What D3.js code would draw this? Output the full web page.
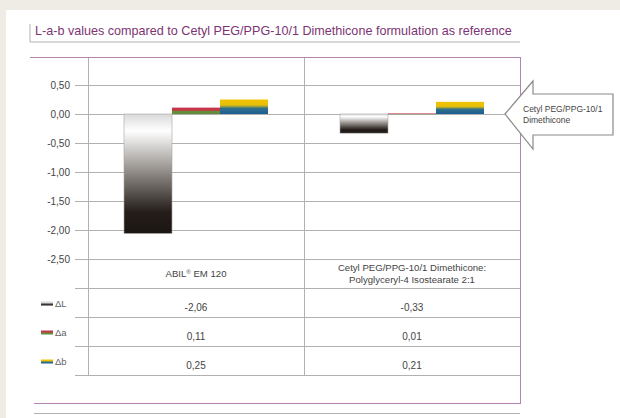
<!DOCTYPE html>
<html>
<head>
<meta charset="utf-8">
<script src="https://cdn.jsdelivr.net/npm/d3@7"></script>
<style>
  body { margin: 0; background: #efebe5; }
  svg { display: block; font-family: "Liberation Sans", Arial, sans-serif; }
</style>
</head>
<body>
<svg id="chart" width="620" height="418"></svg>
<script>
// Data
const title = 'L-a-b values compared to Cetyl PEG/PPG-10/1 Dimethicone formulation as reference';
const categories = ['ABIL® EM 120', 'Cetyl PEG/PPG-10/1 Dimethicone:\nPolyglyceryl-4 Isostearate 2:1'];
const series = ['ΔL', 'Δa', 'Δb'];
const deltaL = [-2.06, -0.33];
const deltaA = [0.11, 0.01];
const deltaB = [0.25, 0.21];
const yTicks = [0.5, 0, -0.5, -1, -1.5, -2, -2.5];
const refLabel = ['Cetyl PEG/PPG-10/1', 'Dimethicone'];

const values = [deltaL, deltaA, deltaB];

// Colours
const purple = '#b583b3';
const grid = '#b3b1ae';
const textCol = '#444';

const fmt = d3.formatLocale({ decimal: ',', thousands: '.', grouping: [3], currency: ['', ''], minus: '-' }).format('.2f');

const svg = d3.select('#chart');

// White panel
svg.append('rect').attr('x', 6).attr('y', 10).attr('width', 614).attr('height', 408).attr('fill', '#fff');

// Gradients
const defs = svg.append('defs');
function grad(id, stops) {
  const g = defs.append('linearGradient').attr('id', id).attr('x1', 0).attr('y1', 0).attr('x2', 0).attr('y2', 1);
  stops.forEach(s => g.append('stop').attr('offset', s[0]).attr('stop-color', s[1]));
}
grad('gL', [[0, '#d9d9d9'], [0.14, '#ffffff'], [0.5, '#8c8782'], [0.82, '#241d19'], [1, '#1c1612']]);
grad('ga', [[0, '#c8324c'], [0.42, '#c33a46'], [0.6, '#6a8a3c'], [1, '#5a8e3a']]);
grad('gb', [[0, '#f3c300'], [0.38, '#e6c00c'], [0.62, '#2f6f8c'], [1, '#1b5e92']]);
const fills = ['url(#gL)', 'url(#ga)', 'url(#gb)'];

// Scales
const x = d3.scaleBand().domain(categories).range([88, 520]);
const xs = d3.scaleBand().domain(series).range([0, 144]);
const y = d3.scaleLinear().domain([0.5, -2.5]).range([85, 259]);
const rowH = y(-2.5) - y(-2); // table row height equals one tick step
const gridLeft = 75, right = 520, frameTop = 57;

// Title block
svg.append('line').attr('x1', 30).attr('x2', 30).attr('y1', 24).attr('y2', 42).attr('stroke', grid);
svg.append('line').attr('x1', 30).attr('x2', right).attr('y1', 42).attr('y2', 42).attr('stroke', grid);
svg.append('text').attr('x', 35).attr('y', 35).attr('fill', '#7d3473').attr('font-size', 12.6).text(title);

// Gridlines + y labels
svg.append('g').selectAll('line').data(yTicks).join('line')
  .attr('x1', gridLeft).attr('x2', right)
  .attr('y1', d => Math.round(y(d)) + 0.5).attr('y2', d => Math.round(y(d)) + 0.5)
  .attr('stroke', grid);
svg.append('g').selectAll('text').data(yTicks).join('text')
  .attr('x', 70).attr('y', d => y(d) + 3.5)
  .attr('text-anchor', 'end').attr('font-size', 10).attr('fill', textCol)
  .text(d => fmt(d));

// Table rows
const tableTop = y(-2.5);
const rows = d3.range(1, series.length + 2).map(i => tableTop + i * rowH);
svg.append('g').selectAll('line').data(rows).join('line')
  .attr('x1', gridLeft).attr('x2', right)
  .attr('y1', d => Math.round(d) + 0.5).attr('y2', d => Math.round(d) + 0.5)
  .attr('stroke', grid);
const tableBottom = rows[rows.length - 1];

// Vertical lines
svg.append('g').selectAll('line').data(categories).join('line')
  .attr('x1', d => x(d) + 0.5).attr('x2', d => x(d) + 0.5)
  .attr('y1', frameTop).attr('y2', Math.round(tableBottom) + 0.5)
  .attr('stroke', grid);

// Bars
const bars = svg.append('g');
series.forEach((s, si) => {
  bars.selectAll(null).data(values[si]).join('rect')
    .attr('x', (d, i) => x(categories[i]) + (x.bandwidth() - 144) / 2 + xs(s))
    .attr('y', d => y(Math.max(0, d)))
    .attr('width', xs.bandwidth())
    .attr('height', d => Math.max(0.8, Math.abs(y(d) - y(0))))
    .attr('fill', fills[si])
    .attr('stroke', si === 0 ? '#a8a6a4' : 'none').attr('stroke-width', 0.6);
});

// Category labels
const catRow = tableTop + rowH / 2;
categories.forEach(c => {
  const lines = c.split('\n');
  lines.forEach((ln, li) => {
    const t = svg.append('text').attr('x', x(c) + x.bandwidth() / 2)
      .attr('y', catRow + 3.5 + (li - (lines.length - 1) / 2) * 11.5)
      .attr('text-anchor', 'middle').attr('font-size', 9.6).attr('fill', textCol);
    const parts = ln.split('®');
    t.append('tspan').text(parts[0]);
    if (parts.length > 1) {
      t.append('tspan').attr('font-size', 6).attr('dy', -3.5).text('®');
      t.append('tspan').attr('dy', 3.5).text(parts[1]);
    }
  });
});

// Table values + legend
series.forEach((s, si) => {
  const cy = tableTop + rowH * (si + 1) + rowH / 2;
  svg.append('rect').attr('x', 41).attr('y', cy - 1).attr('width', 12).attr('height', 4).attr('fill', fills[si]);
  svg.append('text').attr('x', 55).attr('y', cy + 4).attr('font-size', 9.5).attr('fill', '#666').text(s);
  svg.append('g').selectAll('text').data(values[si]).join('text')
    .attr('x', (d, i) => x(categories[i]) + x.bandwidth() / 2)
    .attr('y', cy + 8)
    .attr('text-anchor', 'middle').attr('font-size', 10).attr('fill', textCol)
    .text(d => fmt(d));
});

// Purple frame
svg.append('line').attr('x1', 30).attr('x2', right + 0.5).attr('y1', frameTop + 0.5).attr('y2', frameTop + 0.5).attr('stroke', purple);
svg.append('line').attr('x1', right + 0.5).attr('x2', right + 0.5).attr('y1', frameTop).attr('y2', 403.5).attr('stroke', purple);
svg.append('line').attr('x1', 34).attr('x2', right + 1).attr('y1', 403.5).attr('y2', 403.5).attr('stroke', purple);
svg.append('line').attr('x1', 34).attr('x2', right).attr('y1', 413.5).attr('y2', 413.5).attr('stroke', grid);

// Reference arrow at zero
const y0 = y(0);
const arrow = [[505, 0], [533, -33], [533, -20], [613, -20], [613, 21], [533, 21], [533, 35]];
svg.append('path')
  .attr('d', d3.line()(arrow.map(p => [p[0], y0 + p[1]])) + 'Z')
  .attr('fill', '#fff').attr('stroke', '#8d8a87').attr('stroke-width', 1.2);
refLabel.forEach((t, i) => {
  svg.append('text').attr('x', 523).attr('y', y0 - 2 + i * 11)
    .attr('font-size', 8.5).attr('fill', textCol).text(t);
});
</script>
</body>
</html>
